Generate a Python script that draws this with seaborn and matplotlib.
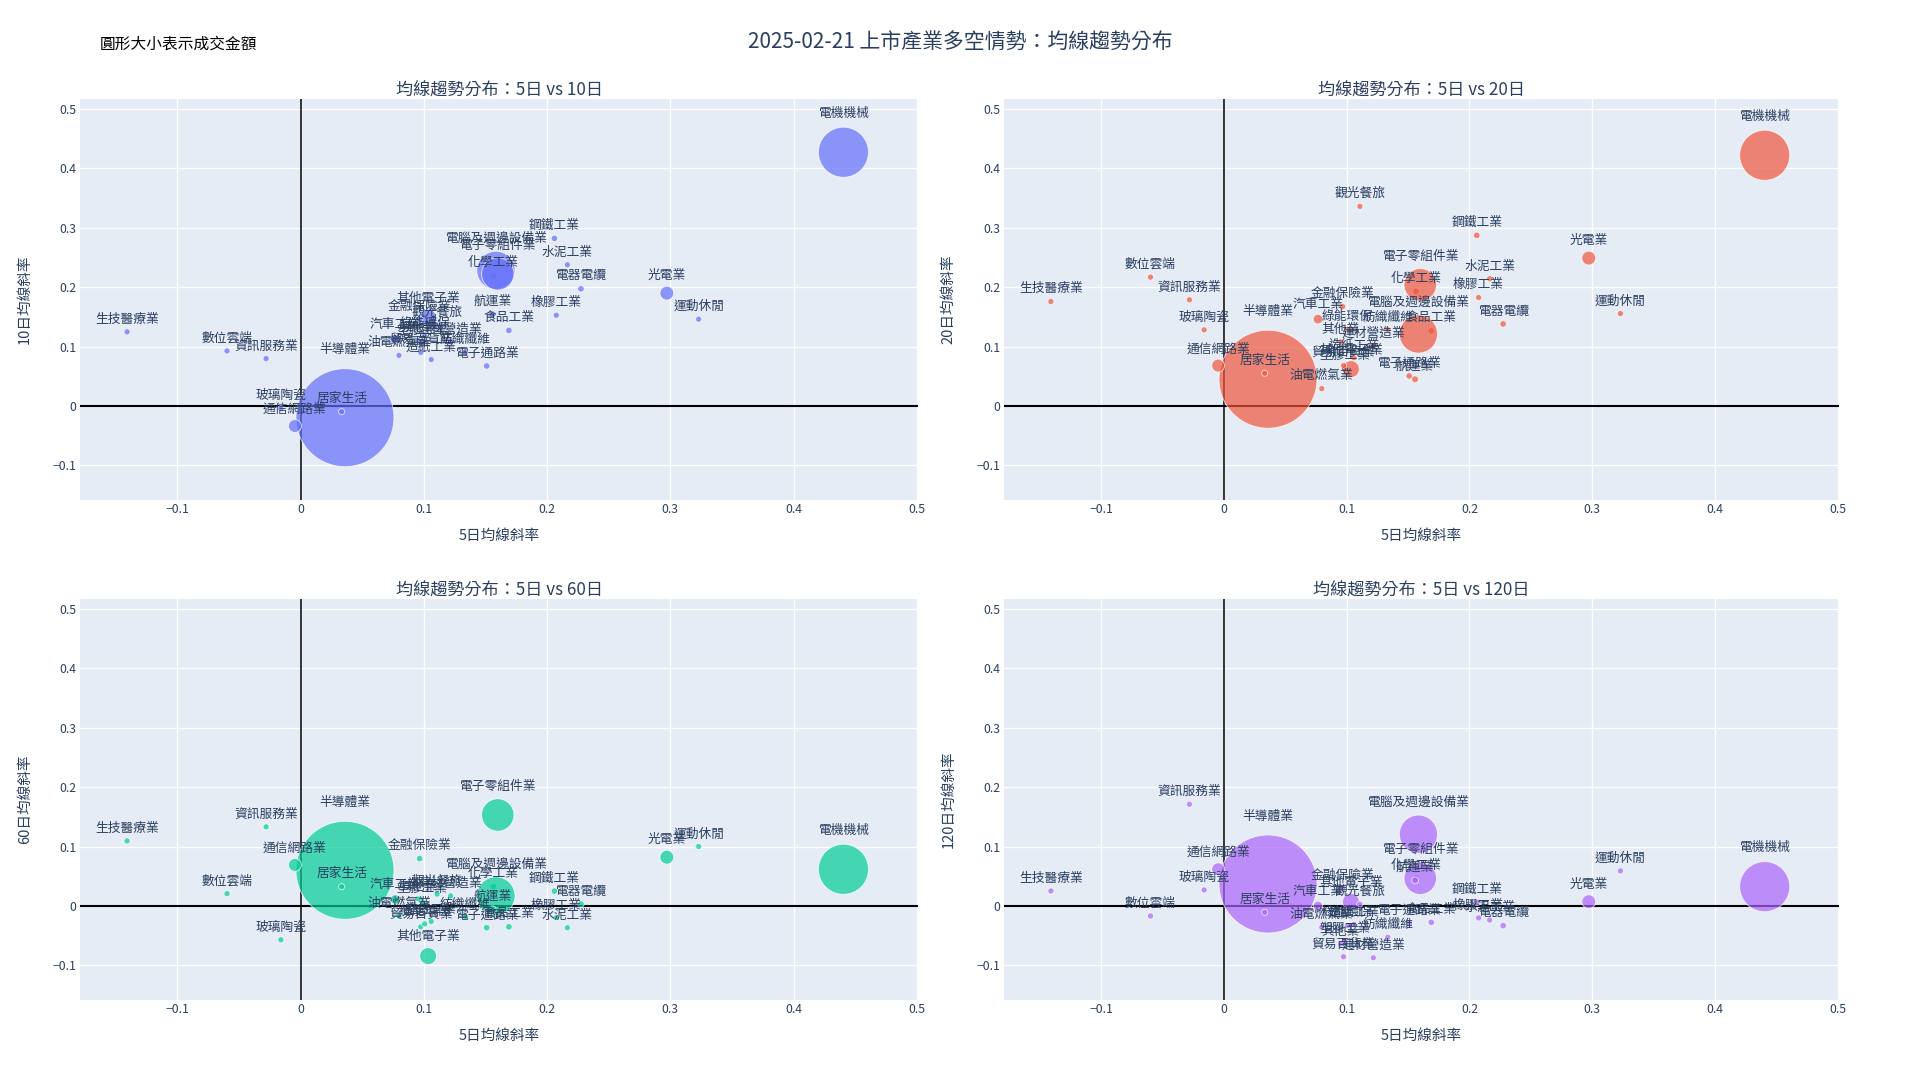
import matplotlib
matplotlib.use("Agg")
import matplotlib.pyplot as plt
import seaborn as sns
import pandas as pd
import numpy as np

# ---- data ----
industries = [
    "水泥工業", "食品工業", "塑膠工業", "紡織纖維", "電機機械", "電器電纜", "化學工業", "生技醫療業",
    "玻璃陶瓷", "造紙工業", "鋼鐵工業", "橡膠工業", "汽車工業", "半導體業", "電腦及週邊設備業", "光電業",
    "通信網路業", "電子零組件業", "電子通路業", "資訊服務業", "其他電子業", "建材營造業", "航運業", "觀光餐旅",
    "金融保險業", "貿易百貨業", "油電燃氣業", "綠能環保", "數位雲端", "運動休閒", "居家生活", "其他業",
]

slope_5 = [
    0.2165, 0.169, 0.0985, 0.1336, 0.4405, 0.2275, 0.1565, -0.1408,
    -0.016, 0.106, 0.206, 0.2075, 0.0767, 0.036, 0.1585, 0.2972,
    -0.0046, 0.160, 0.151, -0.028, 0.1035, 0.1218, 0.1558, 0.1108,
    0.0966, 0.0975, 0.0798, 0.1007, -0.0597, 0.323, 0.0333, 0.0953,
]

slope_10 = [
    0.2374, 0.127, 0.105, 0.090, 0.4265, 0.197, 0.219, 0.1246,
    -0.0045, 0.078, 0.2817, 0.1526, 0.112, -0.0196, 0.228, 0.1897,
    -0.0337, 0.222, 0.0673, 0.0797, 0.148, 0.108, 0.154, 0.136,
    0.146, 0.090, 0.085, 0.118, 0.0926, 0.1459, -0.0095, 0.110,
]

slope_20 = [
    0.214, 0.1263, 0.064, 0.128, 0.4214, 0.138, 0.1925, 0.1756,
    0.128, 0.081, 0.2868, 0.1823, 0.146, 0.045, 0.121, 0.2486,
    0.0679, 0.2037, 0.0505, 0.1785, 0.062, 0.101, 0.0449, 0.3356,
    0.1672, 0.068, 0.0292, 0.129, 0.2166, 0.1554, 0.055, 0.1077,
]

slope_60 = [
    -0.0365, -0.035, 0.008, -0.018, 0.0617, 0.0034, 0.0325, 0.1094,
    -0.0567, -0.026, 0.025, -0.0196, 0.011, 0.060, 0.017, 0.082,
    0.069, 0.153, -0.0365, 0.133, -0.0842, 0.017, -0.0056, 0.020,
    0.0797, -0.035, -0.017, -0.030, 0.0208, 0.100, 0.0325, 0.012,
]

slope_120 = [
    -0.0236, -0.0275, -0.060, -0.0527, 0.0325, -0.033, 0.047, 0.0253,
    0.027, -0.031, 0.006, -0.020, 0.000, 0.037, 0.1207, 0.0073,
    0.0617, 0.0466, -0.029, 0.171, 0.007, -0.087, 0.043, 0.003,
    0.030, -0.0853, -0.036, -0.033, -0.0168, 0.059, -0.0107, -0.064,
]

# 成交金額 (億)
turnover = [
    3, 4, 4, 3, 520, 4, 4, 3,
    3, 3, 4, 3, 14, 2000, 300, 35,
    30, 215, 4, 3, 55, 3, 5, 3,
    4, 3, 3, 3, 3, 3, 3, 3,
]

periods = ["10日", "20日", "60日", "120日"]
colors = ["#636EFA", "#EF553B", "#00CC96", "#AB63FA"]

tick_vals = [-0.1, 0, 0.1, 0.2, 0.3, 0.4, 0.5]
tick_text = ["−0.1", "0", "0.1", "0.2", "0.3", "0.4", "0.5"]

# ---- style ----
sns.set_style("white")
plt.rcParams["font.family"] = ["Noto Sans CJK TC", "DejaVu Sans"]

TEXT = "#2a3f5f"
BG = "#E5ECF6"
SMIN, SMAX, NORM_MAX = 12, 4980, 2000

fig = plt.figure(figsize=(19.2, 10.8), dpi=100)

W, H = 1920, 1080
rects = [
    (80, 99, 918, 500),
    (1004, 99, 1839, 500),
    (80, 599, 918, 1000),
    (1004, 599, 1839, 1000),
]

all_y = [slope_10, slope_20, slope_60, slope_120]

for k, (l, t, r, b) in enumerate(rects):
    ax = fig.add_axes([l / W, 1 - b / H, (r - l) / W, (b - t) / H])
    ax.set_facecolor(BG)
    for s in ax.spines.values():
        s.set_visible(False)

    df = pd.DataFrame({
        "產業": industries,
        "5日": slope_5,
        "y": all_y[k],
        "成交金額": turnover,
    })

    ax.axhline(0, color="black", lw=1.5, zorder=2)
    ax.axvline(0, color="black", lw=1.1, zorder=2)

    sns.scatterplot(
        data=df, x="5日", y="y", size="成交金額",
        sizes=(SMIN, SMAX), size_norm=(0, NORM_MAX),
        color=colors[k], alpha=0.7, edgecolor="white", linewidth=0.7,
        legend=False, ax=ax, zorder=3,
    )

    # labels sit above each marker, further up for the big bubbles
    for name, xv, yv, amt in zip(df["產業"], df["5日"], df["y"], df["成交金額"]):
        s_val = SMIN + amt / NORM_MAX * (SMAX - SMIN)
        r_pt = np.sqrt(s_val) / 2
        off = 1.2 * r_pt + 6.5
        ax.annotate(name, (xv, yv), xytext=(0, off), textcoords="offset points",
                    ha="center", va="center", fontsize=9.2, color=TEXT, zorder=5)

    ax.set_xlim(-0.179, 0.501)
    ax.set_ylim(-0.158, 0.516)
    ax.set_xticks(tick_vals)
    ax.set_xticklabels(tick_text)
    ax.set_yticks(tick_vals)
    ax.set_yticklabels(tick_text)
    ax.tick_params(length=0, pad=2.5, labelsize=8.8, labelcolor=TEXT)
    ax.grid(True, color="white", lw=1, zorder=0)
    ax.set_axisbelow(True)

    ax.set_xlabel("5日均線斜率", fontsize=10.5, color=TEXT)
    ax.xaxis.set_label_coords(0.5, -(536 - 500) / 401)
    ax.xaxis.label.set_va("center")
    ax.set_ylabel(f"{periods[k]}均線斜率", fontsize=10.5, color=TEXT)
    ax.yaxis.set_label_coords(-0.066, 0.5)
    ax.yaxis.label.set_va("center")

    fig.text((l + r) / 2 / W, 1 - (t - 8) / H, f"均線趨勢分布：5日 vs {periods[k]}",
             ha="center", va="center", fontsize=12.3, color=TEXT)

fig.text(0.5, 1 - 43 / H, "2025-02-21 上市產業多空情勢：均線趨勢分布",
         ha="center", va="center", fontsize=15, color=TEXT)
fig.text(100 / W, 1 - 44 / H, "圓形大小表示成交金額",
         ha="left", va="center", fontsize=11.3, color="black")

fig.savefig("out.png", dpi=100, facecolor="white")
